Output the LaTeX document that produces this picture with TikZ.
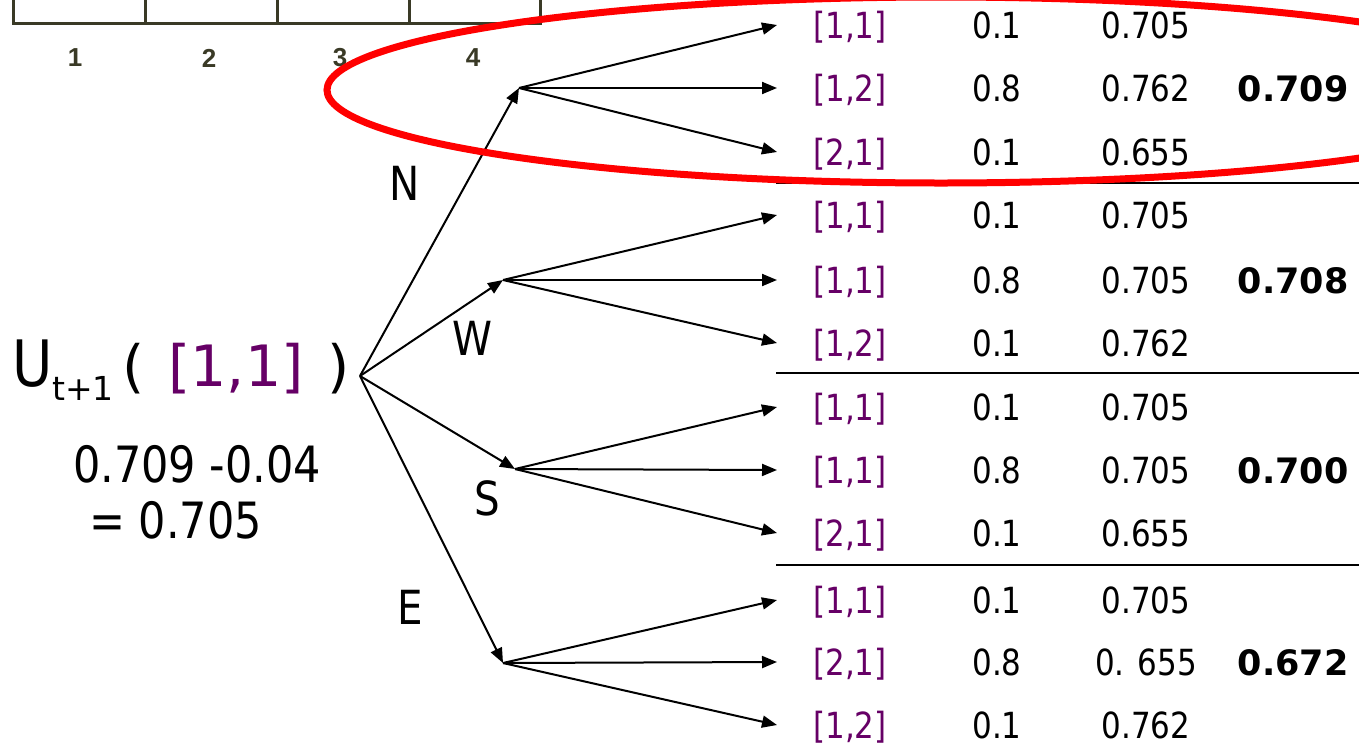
\documentclass[tikz,border=0pt]{standalone}
\usepackage{fontspec}
\setmainfont{DejaVu Sans}
\newfontfamily\nf[FakeStretch=0.86]{DejaVu Sans}
\newfontfamily\nfw{DejaVu Sans}
\newfontfamily\gridfont{Liberation Sans Bold}
\usetikzlibrary{arrows.meta}
\definecolor{st}{RGB}{102,0,102}
\definecolor{gridc}{RGB}{58,58,38}
\definecolor{ellred}{RGB}{255,0,0}
\begin{document}
\begin{tikzpicture}[x=1pt,y=-1pt,
  arr/.style={line width=2pt,-{Triangle[length=15pt,width=12pt]}},
  sepline/.style={line width=2pt},
  tab/.style={font=\nf\fontsize{36}{36}\selectfont,anchor=base,inner sep=0pt},
  stt/.style={tab,text=st},
  bval/.style={anchor=base,inner sep=0pt,font=\nfw\bfseries\fontsize{35}{35}\selectfont},
  lbl/.style={font=\nf\fontsize{47}{47}\selectfont,inner sep=0pt},
  big/.style={anchor=base,inner sep=0pt,font=\nfw\fontsize{57}{57}\selectfont},
  gridnum/.style={font=\gridfont\fontsize{26}{26}\selectfont,text=gridc,inner sep=0pt},
  gridline/.style={draw=gridc,line width=3pt}]
\useasboundingbox (0,0) rectangle (1359,745);
\clip (0,0) rectangle (1359,745);
\fill[white] (0,0) rectangle (1359,745);
% grid fragment
\draw[gridline] (13,-10) -- (13,23) -- (540,23) -- (540,-10);
\foreach \gx in {145,277,409} \draw[gridline] (\gx,-10) -- (\gx,23);
\node[gridnum] (g1) at (75,58) {1};
\node[gridnum] (g2) at (209,58) {2};
\node[gridnum] (g3) at (340,58) {3};
\node[gridnum] (g4) at (473,58) {4};
% left texts
\node[anchor=base west,inner sep=0pt,font=\nf\fontsize{64}{64}\selectfont] (uU) at (12,386) {U};
\node[anchor=base west,inner sep=0pt,font=\nfw\fontsize{33}{33}\selectfont] (uSub) at (52,400) {t+1};
\node[big] (uL) at (134,386) {(};
\node[big,text=st] (uS) at (236,386) {[1,1]};
\node[big] (uR) at (339,386) {)};
\node[anchor=base west,inner sep=0pt,font=\nf\fontsize{50}{50}\selectfont] (c1) at (73,482) {0.709 -0.04};
\node[anchor=base west,inner sep=0pt,font=\nf\fontsize{50}{50}\selectfont] (c2) at (89,538) {= 0.705};
% action labels
\node[lbl] (lN) at (405,183) {N};
\node[lbl] (lW) at (472,338) {W};
\node[lbl] (lS) at (487,498) {S};
\node[lbl] (lE) at (410,607) {E};
% tree points
\coordinate (r) at (360,376);
\coordinate (n) at (519,88);
\coordinate (w) at (503,280);
\coordinate (s) at (515,469);
\coordinate (e) at (503,663);
% table
\foreach \i/\y/\sv/\p/\u in {1/25/{[1,1]}/0.1/0.705, 2/88/{[1,2]}/0.8/0.762, 3/152/{[2,1]}/0.1/0.655,
  4/215/{[1,1]}/0.1/0.705, 5/280/{[1,1]}/0.8/0.705, 6/343/{[1,2]}/0.1/0.762,
  7/407/{[1,1]}/0.1/0.705, 8/470/{[1,1]}/0.8/0.705, 9/533/{[2,1]}/0.1/0.655,
  10/600/{[1,1]}/0.1/0.705, 11/662/{[2,1]}/0.8/{0. 655}, 12/725/{[1,2]}/0.1/0.762}{
  \coordinate (t\i) at (777,\y);
  \node[stt] (s\i) at (850,\y+13) {\sv};
  \node[tab] (p\i) at (997,\y+13) {\p};
  \node[tab] (u\i) at (1146,\y+13) {\u};
}
\node[bval] (b2) at (1293,101) {0.709};
\node[bval] (b5) at (1293,293) {0.708};
\node[bval] (b8) at (1293,483) {0.700};
\node[bval] (b11) at (1293,675) {0.672};
% separators
\coordinate (h1a) at (776,183); \coordinate (h1b) at (1359,183);
\coordinate (h2a) at (776,373); \coordinate (h2b) at (1359,373);
\coordinate (h3a) at (776,565); \coordinate (h3b) at (1359,565);
\draw[sepline] (h1a) -- (h1b);
\draw[sepline] (h2a) -- (h2b);
\draw[sepline] (h3a) -- (h3b);
% arrows
\draw[arr] (r) -- (n);
\draw[arr] (r) -- (w);
\draw[arr] (r) -- (s);
\draw[arr] (r) -- (e);
\foreach \m/\a/\b/\c in {n/1/2/3, w/4/5/6, s/7/8/9, e/10/11/12}{
  \draw[arr] (\m) -- (t\a);
  \draw[arr] (\m) -- (t\b);
  \draw[arr] (\m) -- (t\c);
}
% red ellipse
\draw[ellred,line width=7pt] (941,90) ellipse [x radius=614, y radius=93];
\end{tikzpicture}
\end{document}
